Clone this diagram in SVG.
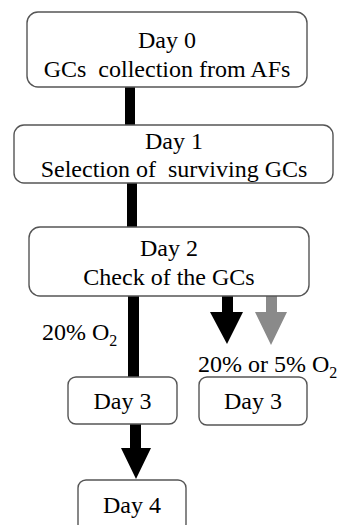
<svg xmlns="http://www.w3.org/2000/svg" width="340" height="525" viewBox="0 0 340 525">
  <style>
    .box { fill: #ffffff; stroke: #555555; stroke-width: 1.4; }
    text { font-family: 'Liberation Serif', 'DejaVu Serif', 'Times New Roman', Times, serif; font-size: 24px; fill: #000000; }
    .t { text-anchor: middle; }
    .sub { font-size: 16px; }
  </style>
  <rect width="340" height="525" fill="#ffffff"/>
  <g id="connectors">
    <rect x="125" y="87" width="10" height="38" fill="#000000"/>
    <rect x="127" y="183" width="10" height="44" fill="#000000"/>
    <rect x="128" y="296" width="11" height="81" fill="#000000"/>
    <path d="M130,424 L141,424 L141,448 L151,448 L136,479 L121,448 L130,448 Z" fill="#000000"/>
    <path d="M222,296 L233,296 L233,312 L243,312 L227,344 L210,312 L222,312 Z" fill="#000000"/>
    <path d="M266,296 L277,296 L277,312 L287,312 L271,345 L255,312 L266,312 Z" fill="#8a8a8a"/>
  </g>
  <g id="node-day0">
    <rect class="box" x="27" y="12" width="280" height="75" rx="11"/>
    <text class="t" x="167" y="48" font-family="Liberation Serif, serif">Day 0</text>
    <text class="t" x="167" y="77" font-family="Liberation Serif, serif" xml:space="preserve">GCs  collection from AFs</text>
  </g>
  <g id="node-day1">
    <rect class="box" x="14" y="125" width="319" height="58" rx="10"/>
    <text class="t" x="174" y="149" font-family="Liberation Serif, serif">Day 1</text>
    <text class="t" x="174" y="177" font-family="Liberation Serif, serif" xml:space="preserve">Selection of  surviving GCs</text>
  </g>
  <g id="node-day2">
    <rect class="box" x="29" y="227" width="280" height="69" rx="11"/>
    <text class="t" x="169" y="256" font-family="Liberation Serif, serif">Day 2</text>
    <text class="t" x="169" y="285" font-family="Liberation Serif, serif">Check of the GCs</text>
  </g>
  <g id="label-20">
    <text x="42" y="340" font-family="Liberation Serif, serif">20% O<tspan class="sub" dy="6">2</tspan></text>
  </g>
  <g id="label-20or5">
    <text x="198" y="372" font-family="Liberation Serif, serif">20% or 5% O<tspan class="sub" dy="6">2</tspan></text>
  </g>
  <g id="node-day3-left">
    <rect class="box" x="68" y="377" width="109" height="47" rx="8"/>
    <text class="t" x="122.5" y="409" font-family="Liberation Serif, serif">Day 3</text>
  </g>
  <g id="node-day3-right">
    <rect class="box" x="199" y="377" width="108" height="48" rx="8"/>
    <text class="t" x="253" y="409" font-family="Liberation Serif, serif">Day 3</text>
  </g>
  <g id="node-day4">
    <rect class="box" x="78" y="480" width="108" height="52" rx="8"/>
    <text class="t" x="132" y="513" font-family="Liberation Serif, serif">Day 4</text>
  </g>
</svg>
